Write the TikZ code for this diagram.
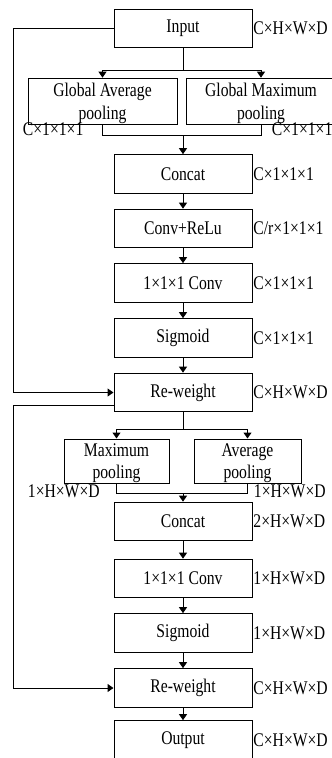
\documentclass[tikz,border=0pt]{standalone}
\usepackage{fontspec}
\setmainfont{Liberation Serif}[FakeStretch=0.81]
\usepackage{tikz}
\usetikzlibrary{arrows.meta, calc}
\tikzset{
  % Block of the main column
  blk/.style={
    rectangle, draw, line width=0.75pt,
    minimum width=103.5pt, minimum height=29pt,
    inner sep=0pt, align=center,
    font=\fontsize{14.5pt}{17pt}\selectfont
  },
  % Two-line pooling block
  pblk/.style={blk, minimum height=35pt, text depth=0pt},
  % Tensor size label
  szlbl/.style={inner sep=0.5pt, font=\fontsize{14.5pt}{17pt}\selectfont},
  % Arrows
  ln/.style={line width=0.75pt},
  arr/.style={ln, -{Triangle[length=4.5pt,width=6pt]}},
}

\begin{document}
\begin{tikzpicture}[x=0.75pt,y=-0.75pt]
  \useasboundingbox (0,0) rectangle (332,758);

  % Channel attention
  \node[blk] (input) at (183,28.5) {Input};
  \node[pblk, minimum width=111.75pt] (gap) at (102.5,101.5) {Global Average\\pooling};
  \node[pblk, minimum width=112.5pt] (gmp) at (261,101.5) {Global Maximum\\pooling};
  \node[blk] (concat1) at (183,174) {Concat};
  \node[blk] (convrelu) at (183,228.5) {Conv+ReLu};
  \node[blk] (conv1) at (183,283) {1×1×1 Conv};
  \node[blk] (sig1) at (183,338) {Sigmoid};
  \node[blk] (rw1) at (183,392.5) {Re-weight};

  % Spatial attention
  \node[pblk, minimum width=78.75pt, minimum height=33pt] (maxp) at (116.5,461) {Maximum\\pooling};
  \node[pblk, minimum width=80.25pt, minimum height=33pt] (avgp) at (247.5,461) {Average\\pooling};
  \node[blk] (concat2) at (183,521.5) {Concat};
  \node[blk] (conv2) at (183,578.5) {1×1×1 Conv};
  \node[blk] (sig2) at (183,633) {Sigmoid};
  \node[blk] (rw2) at (183,688) {Re-weight};
  \node[blk] (output) at (183,740) {Output};

  % Sizes
  \node[szlbl, anchor=west] at (input.east) {C×H×W×D};
  \node[szlbl, anchor=base west] at (22,135) {C×1×1×1};
  \node[szlbl, anchor=base west] at (271,135) {C×1×1×1};
  \node[szlbl, anchor=west] at (concat1.east) {C×1×1×1};
  \node[szlbl, anchor=west] at (convrelu.east) {C/r×1×1×1};
  \node[szlbl, anchor=west] at (conv1.east) {C×1×1×1};
  \node[szlbl, anchor=west] at (sig1.east) {C×1×1×1};
  \node[szlbl, anchor=west] at (rw1.east) {C×H×W×D};
  \node[szlbl, anchor=base west] at (27,497) {1×H×W×D};
  \node[szlbl, anchor=base west] at (253,497) {1×H×W×D};
  \node[szlbl, anchor=west] at (concat2.east) {2×H×W×D};
  \node[szlbl, anchor=west] at (conv2.east) {1×H×W×D};
  \node[szlbl, anchor=west] at (sig2.east) {1×H×W×D};
  \node[szlbl, anchor=west] at (rw2.east) {C×H×W×D};
  \node[szlbl, anchor=west] at (output.east) {C×H×W×D};

  % Connectors
  \coordinate (lft) at (13,0);
  \coordinate (m1) at (183,135);
  \coordinate (m2) at (183,493);
  \draw[arr] (input.south) -- ++(0,22) -| (gap.north);
  \draw[arr] (input.south) -- ++(0,22) -| (gmp.north);
  \draw[ln] (gap.south) -- ++(0,10) -| (gmp.south);
  \draw[arr] (m1) -- (concat1.north);
  \draw[arr] (concat1) -- (convrelu);
  \draw[arr] (convrelu) -- (conv1);
  \draw[arr] (conv1) -- (sig1);
  \draw[arr] (sig1) -- (rw1);
  \draw[arr] (input.west) -- (input.west -| lft) |- (rw1.west);

  \draw[arr] (rw1.south) -- ++(0,17) -| (maxp.north);
  \draw[arr] (rw1.south) -- ++(0,17) -| (avgp.north);
  \draw[ln] (maxp.south) -- ++(0,10) -| (avgp.south);
  \draw[arr] (m2) -- (concat2.north);
  \draw[arr] (concat2) -- (conv2);
  \draw[arr] (conv2) -- (sig2);
  \draw[arr] (sig2) -- (rw2);
  \draw[arr] (rw2) -- (output);
  \coordinate (rwout) at ($(rw1.west)+(0,12.5)$);
  \draw[arr] (rwout) -- (rwout -| lft) |- (rw2.west);
\end{tikzpicture}
\end{document}
